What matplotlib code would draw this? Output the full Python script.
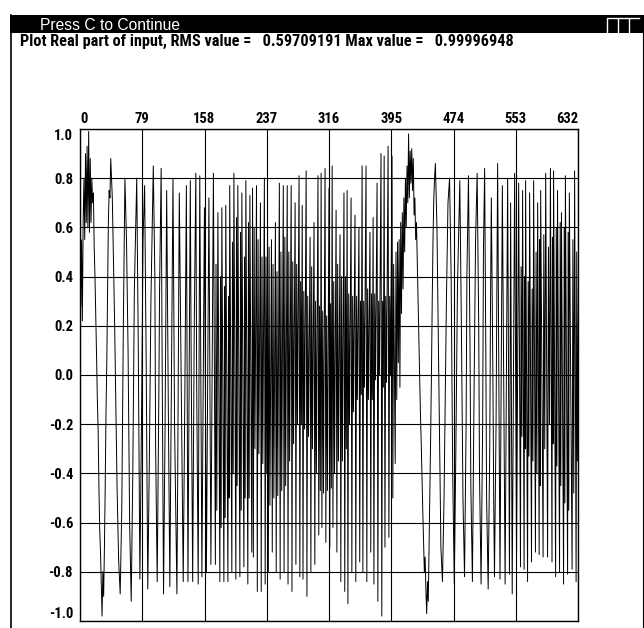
import numpy as np
import matplotlib
matplotlib.use("Agg")
import matplotlib.pyplot as plt
from matplotlib import font_manager as fm
from matplotlib.patches import Rectangle
from matplotlib.lines import Line2D

# ---------------- data (sample index, real part) ----------------
# start: noisy slow segment, one value per sample n = 0..38
start_v = [0.45, 0.28, 0.55, 0.22, 0.62, 0.80, 0.55, 0.90, 0.62, 0.93,
           0.60, 0.99, 0.58, 0.88, 0.62, 0.80, 0.70, 0.74, 0.52, 0.40,
           0.25, 0.08, -0.10, -0.22, -0.45, -0.63, -0.72, -0.85, -0.98, -0.80,
           -0.90, -0.70, -0.45, -0.15, 0.05, 0.35, 0.62, 0.75, 0.72]
start_first = 0

# early oscillation vertices
early_n = [39, 41, 44, 47, 49, 51, 53, 55, 57, 59, 61, 63, 65, 67, 69, 72, 74, 76, 78, 80,
           82, 84, 86, 88, 90, 93, 95, 96, 98, 100, 101, 103, 104, 106, 108, 110, 112, 114,
           116, 118, 120, 123, 124, 126, 128, 131, 133, 135, 136, 137, 138, 140, 141, 143,
           145, 147, 148, 150]
early_v = [0.88, 0.72, 0.20, -0.45, -0.75, -0.89, -0.55, 0.20, 0.80, 0.55, 0.10, -0.60,
           -0.92, -0.40, 0.35, 0.80, 0.10, -0.83, -0.20, 0.55, 0.77, 0.05, -0.87, -0.35,
           0.30, 0.85, 0.40, -0.30, -0.84, -0.10, 0.35, 0.84, 0.20, -0.89, -0.20, 0.75,
           -0.10, -0.86, -0.05, 0.80, -0.20, -0.89, -0.40, 0.74, 0.10, -0.84, -0.10, 0.77,
           0.00, -0.84, -0.30, 0.79, 0.10, -0.84, 0.20, 0.82, 0.00, -0.85]

# faster oscillation
mid_n = [152, 154.7, 157.9, 160.4, 163.6, 166.1, 169.3, 171.8, 172.6, 173.6, 175, 177.5,
         178.3, 179.1, 180, 182.6, 183.4, 184.2, 185, 187.7, 188.5, 189.2, 190, 192.7,
         193.5, 194.4, 195.3, 197.8, 198.6, 199.4, 200.3, 202.9, 203.7, 204.6, 205.4, 208,
         208.8, 209.6, 210.5, 213, 213.8, 214.7, 215.6, 218]
mid_v = [0.81, -0.82, 0.68, -0.80, 0.72, -0.77, 0.82, -0.77, 0.45, -0.55, 0.66, -0.84,
         0.40, -0.62, 0.68, -0.84, 0.36, -0.58, 0.69, -0.84, 0.32, -0.50, 0.77, -0.80,
         0.54, -0.40, 0.82, -0.83, 0.64, -0.45, 0.77, -0.82, 0.58, -0.55, 0.74, -0.78,
         0.48, -0.50, 0.79, -0.85, 0.62, -0.50, 0.73, -0.72]

# dense part (outer peak, outer trough, inner peak, inner trough per cycle)
dense_n = [219, 220, 221, 222, 224, 225, 226, 227, 229, 230, 231, 232, 234, 235, 236, 237,
           238, 239, 240, 241, 243, 244, 245, 246, 248, 249, 250, 251, 253, 254, 255, 256,
           258, 259, 260, 261, 263, 264, 265, 266, 268, 269, 270, 271, 273, 274, 275, 276,
           278, 279, 280, 281, 282, 283, 284, 285, 287, 288, 289, 290, 292, 293, 294, 295,
           297, 298, 299, 300, 302, 303, 304, 305, 306, 307, 308, 309, 311, 312, 313, 314,
           316, 317, 318, 319, 320, 321, 322, 323, 325, 326, 327, 328, 330, 331, 332, 333,
           335, 336, 337, 338, 339, 340, 341, 342, 344, 345, 346, 347, 349, 350, 351, 352,
           354, 355, 356, 357, 358, 359, 360, 361, 363, 364, 365, 366, 368, 369, 370, 371,
           372, 373, 374, 375, 377, 378, 379, 380, 382, 383, 384, 385, 386, 387, 388, 389,
           391, 392, 393, 394, 396, 397, 398, 399]
dense_v = [0.76, -0.74, 0.60, -0.30, 0.77, -0.88, 0.55, -0.32, 0.70, -0.88, 0.48, -0.36,
           0.80, -0.85, 0.48, -0.40, 0.62, -0.80, 0.52, -0.53, 0.55, -0.72, 0.45, -0.50,
           0.62, -0.80, 0.42, -0.49, 0.78, -0.83, 0.50, -0.47, 0.77, -0.80, 0.56, -0.45,
           0.77, -0.85, 0.50, -0.35, 0.77, -0.88, 0.46, -0.28, 0.70, -0.77, 0.45, -0.20,
           0.81, -0.82, 0.38, -0.20, 0.69, -0.83, 0.34, -0.22, 0.83, -0.90, 0.32, -0.25,
           0.56, -0.80, 0.44, -0.30, 0.62, -0.77, 0.30, -0.40, 0.81, -0.65, 0.28, -0.47,
           0.82, -0.62, 0.26, -0.48, 0.84, -0.68, 0.24, -0.47, 0.76, -0.70, 0.29, -0.46,
           0.85, -0.62, 0.38, -0.40, 0.67, -0.72, 0.45, -0.35, 0.57, -0.84, 0.40, -0.35,
           0.74, -0.88, 0.40, -0.30, 0.75, -0.93, 0.33, -0.20, 0.72, -0.80, 0.32, -0.15,
           0.65, -0.84, 0.32, -0.10, 0.60, -0.76, 0.30, -0.08, 0.85, -0.80, 0.30, -0.05,
           0.85, -0.84, 0.35, -0.10, 0.58, -0.72, 0.33, -0.10, 0.64, -0.85, 0.33, -0.02,
           0.78, -0.92, 0.30, 0.00, 0.90, -0.98, 0.30, -0.05, 0.89, -0.70, 0.32, -0.03,
           0.93, -0.66, 0.32, 0.00, 0.89, -0.50, 0.45, 0.05]

# slow segment, one value per sample n = 400..451
slow_first = 400
slow_v = [-0.36, 0.50, -0.10, 0.54, 0.05, 0.55, -0.05, 0.62, 0.25, 0.66,
          0.35, 0.72, 0.50, 0.80, 0.60, 0.85, 0.70, 0.98, 0.72, 0.91,
          0.78, 0.92, 0.75, 0.88, 0.65, 0.72, 0.55, 0.62, 0.46, 0.32,
          0.15, 0.00, -0.15, -0.27, -0.42, -0.55, -0.68, -0.80, -0.74, -0.88,
          -0.97, -0.84, -0.92, -0.70, -0.50, -0.25, 0.00, 0.30, 0.55, 0.72,
          0.80, 0.86]

late_n = [453, 456, 458, 460, 462, 465, 467, 469, 471, 473, 475, 477, 479, 482, 484, 486,
          488, 490, 491, 493, 495, 496, 498, 500, 502, 504, 506, 507, 509, 511, 512, 513.5,
          515, 516, 518, 520, 521, 522, 524, 525, 526, 528, 530]
late_v = [0.60, -0.20, -0.70, -0.84, -0.50, 0.30, 0.70, 0.80, 0.40, -0.40, -0.85, -0.30,
          0.35, 0.79, 0.20, -0.50, -0.82, -0.20, 0.40, 0.81, 0.10, -0.45, -0.84, -0.10,
          0.55, 0.82, 0.20, -0.40, -0.85, -0.20, 0.50, 0.84, 0.10, -0.50, -0.87, -0.30,
          0.30, 0.72, 0.00, -0.50, -0.82, -0.20, 0.86]

end_n = [533, 536, 539.5, 542.7, 545, 546.5, 548.5, 551.6, 554, 556.7, 559, 559.8, 560.8,
         561.7, 563.6, 564.3, 564.9, 565.5, 568, 568.8, 569.7, 570.6, 573, 573.8, 574.8,
         575.7, 578, 578.8, 579.8, 580.8, 582.7, 583.3, 584, 584.6, 587.7, 588.6, 589.8,
         591, 593.4, 594.5, 595.8, 597, 599, 599.6, 600.3, 601, 603.6, 604.4, 605.2, 606,
         608.6, 609.4, 610.2, 611, 613.7, 614.5, 615.3, 616, 618.8, 619.5, 620.3, 621,
         624.5, 625.5, 626.6, 627.7, 629.6, 630.4, 631.2, 633, 636, 639]
end_v = [-0.83, 0.77, -0.85, 0.80, -0.81, 0.70, -0.89, 0.82, -0.76, 0.78, -0.78, 0.44,
         -0.25, 0.75, -0.79, 0.40, -0.30, 0.79, -0.84, 0.38, -0.33, 0.74, -0.76, 0.35,
         -0.35, 0.79, -0.72, 0.50, -0.40, 0.70, -0.73, 0.55, -0.45, 0.75, -0.74, 0.57,
         -0.30, 0.82, -0.74, 0.52, -0.20, 0.84, -0.76, 0.56, -0.28, 0.83, -0.82, 0.60,
         -0.37, 0.75, -0.80, 0.62, -0.45, 0.66, -0.85, 0.60, -0.52, 0.81, -0.81, 0.58,
         -0.55, 0.74, -0.79, 0.55, -0.48, 0.83, -0.84, 0.50, -0.35, 0.60, -0.80, 0.50]

x_ticks = [0, 79, 158, 237, 316, 395, 474, 553, 632]
y_ticks = [1.0, 0.8, 0.6, 0.4, 0.2, 0.0, -0.2, -0.4, -0.6, -0.8, -1.0]
y_labels = ["1.0", "0.8", "0.6", "0.4", "0.2", "0.0", "-0.2", "-0.4", "-0.6", "-0.8", "-1.0"]
title_text = "Press C to Continue"
subtitle_text = "Plot Real part of input, RMS value =   0.59709191 Max value =   0.99996948"

# ---------------- assemble polyline ----------------
n_all = np.concatenate([
    np.arange(start_first, start_first + len(start_v)), early_n, mid_n, dense_n,
    np.arange(slow_first, slow_first + len(slow_v)), late_n, end_n]).astype(float)
v_all = np.concatenate([start_v, early_v, mid_v, dense_v, slow_v, late_v, end_v])
assert len(n_all) == len(v_all)

# ---------------- fonts ----------------
avail = {f.name for f in fm.fontManager.ttflist}
def pick(*cands):
    for c in cands:
        if c in avail:
            return c
    return "DejaVu Sans"
narrow = pick("Liberation Sans Narrow", "Roboto Condensed", "Open Sans Condensed", "DejaVu Sans")
regular = pick("Liberation Sans", "Arimo", "DejaVu Sans")

W, H = 644, 628
fig = plt.figure(figsize=(W / 100, H / 100), dpi=100)
fig.patch.set_facecolor("white")

def fx(px):
    return px / W

def fy(py):
    return 1 - py / H

# window chrome
fig.add_artist(Rectangle((fx(10), fy(33)), 1 - fx(10), 18 / H, transform=fig.transFigure,
                         facecolor="black", edgecolor="none", zorder=0))
fig.add_artist(Line2D([fx(10.5), fx(10.5)], [0, fy(15)], transform=fig.transFigure,
                      color="black", lw=1.2))
fig.add_artist(Line2D([fx(642.5), fx(642.5)], [0, fy(33)], transform=fig.transFigure,
                      color="black", lw=0.8))
for bx in (607, 618, 629):
    fig.add_artist(Line2D([fx(bx), fx(bx), fx(bx + 10)], [fy(32), fy(17.5), fy(17.5)],
                          transform=fig.transFigure, color="white", lw=1.0))

t1 = fig.text(fx(40), fy(30.5), title_text, color="white", family=regular,
              fontsize=10, ha="left", va="baseline")
t2 = fig.text(fx(20), fy(45.5), subtitle_text, color="black", family=narrow,
              fontweight="bold", fontsize=9, ha="left", va="baseline")

# fit text widths to the reference
fig.canvas.draw()
r = fig.canvas.get_renderer()
w2 = t2.get_window_extent(r).width
t2.set_fontsize(9 * 492 / w2)
w1 = t1.get_window_extent(r).width
t1.set_fontsize(10 * 140 / w1)

# ---------------- plot ----------------
ax = fig.add_axes([fx(80), fy(621), (578 - 80) / W, (621 - 129) / H])
ax.plot(n_all, v_all, color="black", lw=0.7, antialiased=True)
ax.set_xlim(0, 632)
ax.set_ylim(-1.0, 1.0)
ax.xaxis.tick_top()
ax.set_xticks(x_ticks)
ax.set_xticklabels([str(t) for t in x_ticks], family=narrow, fontweight="bold", fontsize=10.5)
ax.set_yticks(y_ticks)
ax.set_yticklabels(y_labels, family=narrow, fontweight="bold", fontsize=10.5)
ax.tick_params(axis="both", length=0, pad=5)
ax.tick_params(axis="x", pad=2)
xl = ax.get_xticklabels()
xl[0].set_ha("left")
xl[-1].set_ha("right")
yl = ax.get_yticklabels()
yl[0].set_va("top")
yl[-1].set_va("bottom")
ax.grid(True, color="black", lw=0.8)
ax.set_axisbelow(True)
for s in ax.spines.values():
    s.set_color("black")
    s.set_linewidth(1.0)

fig.savefig("out.png", dpi=100, facecolor="white")
